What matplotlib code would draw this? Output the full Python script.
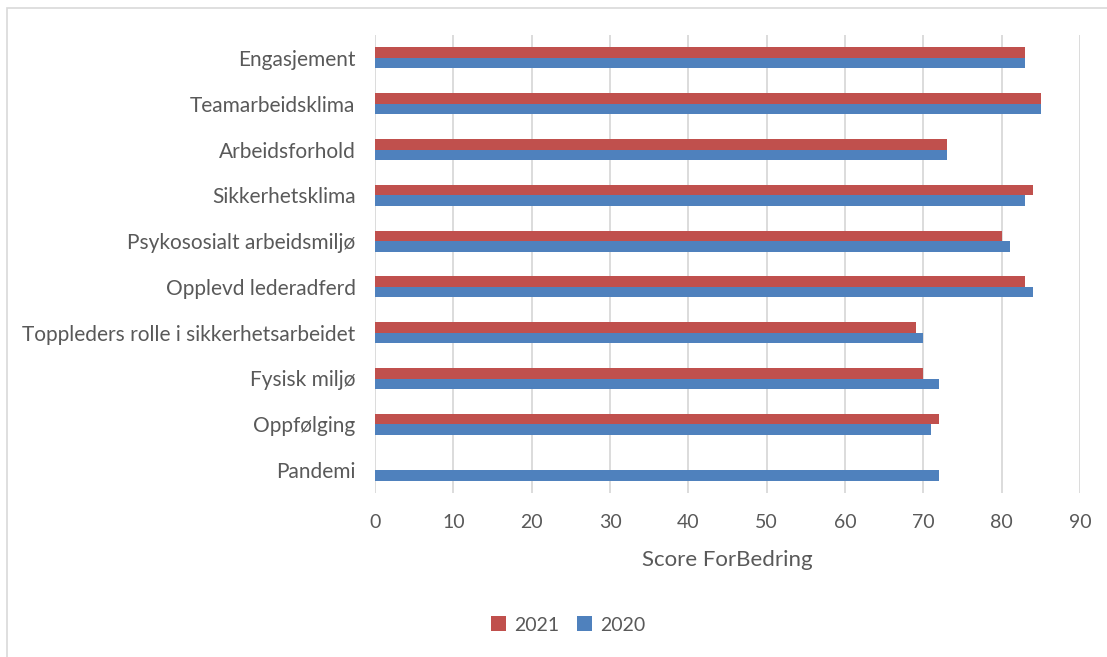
import numpy as np
import matplotlib
matplotlib.use('Agg')
import matplotlib.pyplot as plt
from matplotlib.patches import Rectangle

# Kategorier og score per år
kategorier = ['Engasjement', 'Teamarbeidsklima', 'Arbeidsforhold', 'Sikkerhetsklima',
              'Psykososialt arbeidsmiljø', 'Opplevd lederadferd',
              'Toppleders rolle i sikkerhetsarbeidet', 'Fysisk miljø', 'Oppfølging', 'Pandemi']
score_2021 = [83, 85, 73, 84, 80, 83, 69, 70, 72, np.nan]
score_2020 = [83, 85, 73, 83, 81, 84, 70, 72, 71, 72]
x_ticks = [0, 10, 20, 30, 40, 50, 60, 70, 80, 90]

plt.rcParams['font.family'] = ['Lato', 'DejaVu Sans']
tekstfarge = '#595959'

fig = plt.figure(figsize=(11.07, 6.57), dpi=100)
ax = fig.add_axes([375 / 1107, 1 - 493 / 657, 705 / 1107, 458 / 657])

# Ramme rundt hele diagrammet
fig.patches.append(Rectangle((7 / 1107, -0.05), 1.1, 1 - 8 / 657 + 0.05, transform=fig.transFigure,
                             fill=False, edgecolor='#d9d9d9', linewidth=1.2))

y = np.arange(len(kategorier))
h = 0.23
ax.barh(y - h / 2, score_2021, height=h, color='#C0504D', label='2021', zorder=3)
ax.barh(y + h / 2, score_2020, height=h, color='#4F81BD', label='2020', zorder=3)

ax.set_ylim(len(kategorier) - 0.5, -0.5)
ax.set_xlim(0, 90)
ax.set_xticks(x_ticks)
ax.set_yticks(y)
ax.set_yticklabels(kategorier)
ax.tick_params(axis='both', length=0, colors=tekstfarge)
ax.tick_params(axis='x', pad=15, labelsize=14)
ax.tick_params(axis='y', pad=14, labelsize=15)
ax.grid(axis='x', color='#d9d9d9', linewidth=1.3, zorder=0)
for s in ax.spines.values():
    s.set_visible(False)

ax.set_xlabel('Score ForBedring', fontsize=16, color=tekstfarge, labelpad=14)

fig.legend(loc='center', bbox_to_anchor=(568 / 1107, 1 - 625 / 657), ncol=2, frameon=False,
           fontsize=14, labelcolor=tekstfarge, handlelength=0.8, handleheight=0.8,
           handletextpad=0.4, columnspacing=0.9)

fig.savefig('out.png', dpi=100)
